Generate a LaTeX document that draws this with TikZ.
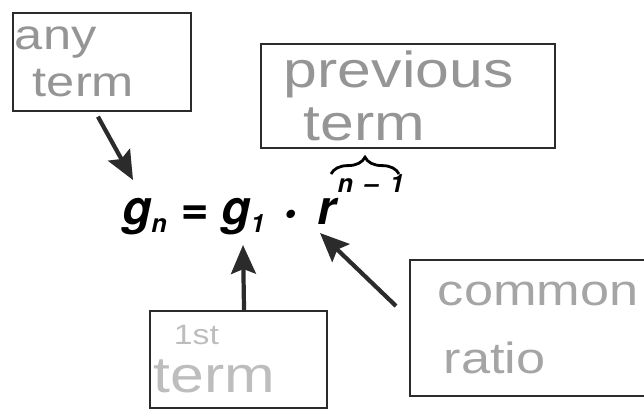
\documentclass[tikz,border=0pt]{standalone}
\usepackage{fontspec}
\newfontfamily\handfont[FakeStretch=1.2]{Liberation Sans}
\newfontfamily\eqfont{TeX Gyre Heros}
\usepackage{tikz}
\usetikzlibrary{arrows.meta, positioning, calc, decorations.pathreplacing}
\usepackage{xcolor}
\definecolor{ink}{HTML}{2B2B2B}
\definecolor{pencil}{HTML}{959595}
\definecolor{faint}{HTML}{BDBDBD}
\newcommand{\eqsub}[1]{\raisebox{-0.2cm}{\fontsize{18}{18}\selectfont #1}}
\newcommand{\eqsup}[1]{\raisebox{0.78cm}{\fontsize{18}{18}\selectfont #1}}

\begin{document}
\begin{tikzpicture}[x=0.025cm, y=-0.025cm,
    box/.style={draw=ink, line width=1.3pt, rectangle, anchor=north west, inner ysep=0pt, align=left, text=pencil},
    tip/.style={-{Stealth[length=0.72cm, width=0.62cm, inset=0.12cm]}, line width=3pt, draw=ink},
    >=Stealth]
\clip (0,0) rectangle (644,409);
\node[box, minimum width=4.45cm, minimum height=2.45cm, inner xsep=0.05cm, text width=4.35cm, font=\handfont\fontsize{30}{33}\selectfont] (anyterm) at (12,12) {any\\\hspace{0.45cm}term};
\node[box, minimum width=7.35cm, minimum height=2.6cm, inner xsep=0.575cm, text width=6.2cm, font=\handfont\fontsize{36}{38}\selectfont] (prevterm) at (260,43) {previous\\\hspace{0.5cm}term};
\node[box, minimum width=4.425cm, minimum height=2.425cm, inner xsep=0.1cm, text width=4.225cm, text=faint, font=\handfont\fontsize{36}{34}\selectfont] (firstterm) at (149,310) {{\fontsize{20}{20}\selectfont\hspace{0.5cm}1st}\\term};
\node[box, minimum width=6.6cm, minimum height=3.4cm, inner xsep=0.7cm, text width=5.2cm, text=pencil!85, font=\handfont\fontsize{31}{48}\selectfont] (ratio) at (409,259) {common\\\hspace{0.15cm}ratio};
\node[anchor=base west, inner sep=0, text=black, font=\eqfont\bfseries\itshape\fontsize{34}{40}\selectfont] (eqn) at (122,224)
    {g\eqsub{n} = g\eqsub{1}\hspace{0.15cm} {\fontsize{24}{24}\selectfont\textbullet}\hspace{0.2cm} r\hspace{0.05cm}\eqsup{n \,–\, 1}};
% arrow tips and brace ends
\coordinate (gntip) at (133,180);
\coordinate (gonetip) at (243,245);
\coordinate (rtip) at (320,233);
\coordinate (braceL) at (331,174);
\coordinate (braceR) at (399,174);
\draw[tip] ([xshift=-0.1cm, yshift=-0.12cm]anyterm.south) -- (gntip);
\draw[tip] ([xshift=0.14cm]firstterm.north) -- (gonetip);
\draw[tip] ($(ratio.north west)+(-13,47)$) -- (rtip);
\draw[decorate, decoration={brace, amplitude=0.42cm}, line width=2pt] (braceL) -- (braceR);
\end{tikzpicture}
\end{document}
